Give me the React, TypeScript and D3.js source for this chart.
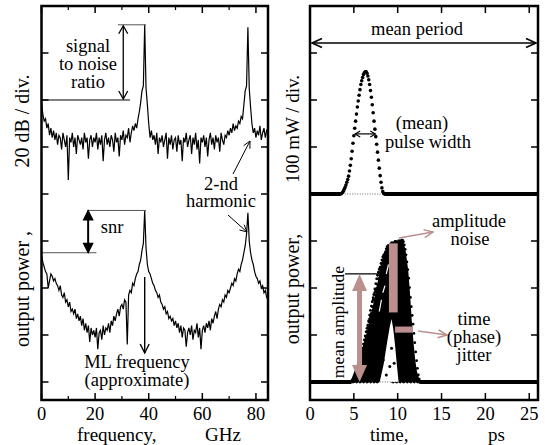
import React from "react";
import * as d3 from "d3";

const W = 545;
const H = 445;
const FONT = '"Liberation Serif", "Times New Roman", "DejaVu Serif", serif';
const PINK = "#bc8f8f";

// ---------- DATA ----------
// RF spectra, 0 .. 84.5 GHz in 0.5 GHz steps, relative power in dB (20 dB / div)
const FREQ_STEP = 0.5;
const upperSpectrum = [
  119, 114, 111, 112, 108, 110, 105, 108, 104, 107,
  103, 106, 101, 105, 104, 99, 106, 103, 100, 105,
  86, 104, 102, 106, 100, 104, 97, 105, 103, 101,
  104, 99, 106, 102, 104, 95, 103, 105, 100, 104,
  102, 106, 99, 104, 101, 105, 94, 103, 106, 101,
  104, 100, 105, 103, 98, 106, 102, 104, 96, 105,
  103, 107, 101, 105, 104, 108, 102, 106, 109, 107,
  110, 108, 112, 115, 119, 124, 126, 152, 125, 118,
  110, 104, 107, 103, 105, 101, 106, 97, 104, 102,
  105, 100, 103, 106, 95, 104, 101, 105, 99, 103,
  104, 98, 105, 101, 103, 94, 104, 102, 106, 100,
  103, 105, 97, 104, 101, 106, 99, 103, 93, 104,
  102, 105, 100, 104, 96, 103, 106, 101, 104, 99,
  105, 102, 104, 98, 106, 103, 101, 105, 104, 107,
  105, 108, 106, 110, 107, 109, 108, 111, 110, 113,
  112, 118, 124, 126, 151, 125, 117, 110, 106, 108,
  104, 107, 105, 109, 103, 106, 108, 104, 107, 106,
];
const lowerSpectrum = [
  54, 51, 49, 47, 46, 40, 43, 46, 45, 43,
  44, 42, 41, 39, 41, 37, 36, 38, 34, 35,
  32, 34, 30, 31, 29, 31, 27, 29, 26, 28,
  24, 27, 22, 25, 21, 24, 17, 23, 20, 22,
  19, 23, 14, 21, 22, 18, 24, 20, 23, 22,
  25, 21, 26, 24, 28, 26, 29, 31, 28, 32,
  33, 31, 35, 34, 16, 37, 39, 38, 42, 41,
  44, 46, 47, 50, 52, 56, 59, 73, 57, 50,
  47, 46, 44, 42, 41, 39, 38, 36, 37, 34,
  33, 31, 32, 29, 30, 27, 28, 26, 27, 24,
  26, 23, 25, 21, 24, 19, 23, 22, 15, 21,
  23, 20, 24, 18, 22, 21, 25, 19, 23, 14,
  22, 24, 21, 25, 23, 26, 22, 27, 25, 28,
  30, 27, 31, 33, 32, 35, 34, 37, 36, 39,
  38, 40, 42, 41, 44, 43, 46, 48, 47, 50,
  52, 55, 58, 63, 72, 60, 55, 52, 50, 47,
  45, 44, 42, 43, 40, 41, 38, 39, 36, 35,
];

// Mean pulse (upper right), time in ps, power in mW
const pulseTime = [
  3.5, 3.6, 3.7, 3.8, 3.9, 4.0, 4.1, 4.2, 4.3, 4.4, 4.5, 4.6, 4.7, 4.8, 4.9,
  5.0, 5.1, 5.2, 5.3, 5.4, 5.5, 5.6, 5.7, 5.8, 5.9, 6.0, 6.1, 6.2, 6.3, 6.4,
  6.5, 6.6, 6.7, 6.8, 6.9, 7.0, 7.1, 7.2, 7.3, 7.4, 7.5, 7.6, 7.7, 7.8, 7.9,
  8.0, 8.1, 8.2, 8.3, 8.4, 8.5,
];
const pulsePower = [
  0, 1, 3, 6, 10, 14, 19, 25, 31, 38, 49, 61, 75, 91, 108,
  124, 140, 155, 170, 185, 198, 210, 222, 233, 241, 248, 254, 258, 260, 260,
  257, 251, 243, 233, 220, 206, 190, 173, 155, 138, 122, 106, 89, 72, 55,
  39, 25, 13, 5, 1, 0,
];
const upperOffset = 400; // mW, upper trace sits 4 div above the lower one

// Noisy pulse train (lower right): envelope of the cloud of samples
const cloudTopTime = [4.4, 4.7, 5.1, 5.6, 6.0, 6.4, 6.8, 7.2, 7.6, 8.0, 8.3, 8.6, 8.9, 9.3, 9.8, 10.3, 10.6, 10.9, 11.2, 11.4, 11.6, 11.8, 12.0, 12.2, 12.5, 12.8];
const cloudTopPower = [0, 5, 25, 50, 75, 100, 132, 165, 202, 240, 266, 280, 291, 296, 298, 300, 302, 280, 238, 190, 132, 85, 47, 22, 4, 0];
const cloudGapTime = [7.95, 8.4, 8.8, 9.1, 9.3, 9.5, 9.7, 9.9, 10.1];
const cloudGapPower = [0, 38, 85, 118, 134, 112, 78, 38, 0];
// individual pulses of the train: time shift of peak and peak power
const trainPeakTime = [7.3, 7.7, 8.1, 8.5, 8.9, 9.3, 9.7, 10.1, 10.45];
const trainPeakPower = [150, 200, 245, 272, 290, 296, 299, 300, 302];
const strayTime = [8.35, 9.3, 9.1, 8.7, 9.6];
const strayPower = [47, 72, 33, 15, 40];
// white streaks inside the cloud (sparse regions)
const streakTime = [7.9, 8.3, 8.7];
const streakLow = [150, 190, 230];
const streakHigh = [175, 205, 250];

const freqMajor = [0, 20, 40, 60, 80];
const freqMinor = [10, 30, 50, 70];
const dbTicks = [0, 20, 40, 60, 80, 100, 120, 140];
const timeTicks = [0, 5, 10, 15, 20, 25];
const mwTicks = [0, 100, 200, 300, 400, 500, 600, 700];

// ---------- helpers ----------
function head(tx: number, ty: number, fx: number, fy: number, len: number, half: number, closed: boolean) {
  const dx = tx - fx;
  const dy = ty - fy;
  const n = Math.hypot(dx, dy) || 1;
  const ux = dx / n;
  const uy = dy / n;
  const bx = tx - ux * len;
  const by = ty - uy * len;
  const px = -uy;
  const py = ux;
  return `M${bx + px * half},${by + py * half}L${tx},${ty}L${bx - px * half},${by - py * half}${closed ? "Z" : ""}`;
}

function Arrow({ x1, y1, x2, y2, both = false, len = 7, half = 4.5, closed = false, color = "#000", width = 1.3 }: any) {
  return (
    <g>
      <line x1={x1} y1={y1} x2={x2} y2={y2} stroke={color} strokeWidth={width} />
      <path d={head(x2, y2, x1, y1, len, half, closed)} fill={closed ? color : "none"} stroke={color} strokeWidth={width} />
      {both && <path d={head(x1, y1, x2, y2, len, half, closed)} fill={closed ? color : "none"} stroke={color} strokeWidth={width} />}
    </g>
  );
}

function T({ children, size = 18.5, ...p }: any) {
  return (
    <text fontFamily={FONT} fontSize={size} fill="#000" style={{ fontFamily: FONT, fontSize: size + "px", whiteSpace: "pre" }} {...p}>
      {children}
    </text>
  );
}

export default function App() {
  const L = { x0: 41.5, x1: 268, y0: 6, y1: 400 };
  const R = { x0: 310, x1: 538, y0: 6, y1: 400 };
  const xL = d3.scaleLinear().domain([0, 84.5]).range([L.x0, L.x1]);
  const yL = d3.scaleLinear().domain([-7.66, 160]).range([L.y1, L.y0]);
  const xR = d3.scaleLinear().domain([0, 26]).range([R.x0, R.x1]);
  const yR = d3.scaleLinear().domain([-38.3, 800]).range([R.y1, R.y0]);

  const specLine = d3
    .line<number>()
    .x((_, i) => xL(i * FREQ_STEP))
    .y((d) => yL(d));

  const ptLine = d3
    .line<[number, number]>()
    .x((d) => xR(d[0]))
    .y((d) => yR(d[1]));

  const cloudTop: [number, number][] = cloudTopTime.map((t, i) => [t, cloudTopPower[i]]);
  const cloudGap: [number, number][] = cloudGapTime.map((t, i) => [t, cloudGapPower[i]]);
  const pulsePeakP = d3.max(pulsePower) as number;
  const pulsePeakT = pulseTime[pulsePower.indexOf(pulsePeakP)];

  return (
    <svg width={W} height={H} style={{ position: "absolute", left: 0, top: 0, background: "#fff" }}>
      <rect x={0} y={0} width={W} height={H} fill="#fff" />

      {/* ================= LEFT PANEL ================= */}
      <g>
        <path d={specLine(upperSpectrum) || ""} fill="none" stroke="#000" strokeWidth={1.2} />
        <path d={specLine(lowerSpectrum) || ""} fill="none" stroke="#000" strokeWidth={1.2} />

        {/* signal to noise ratio */}
        <line x1={xL(28.5)} x2={xL(39)} y1={yL(152)} y2={yL(152)} stroke="#555" strokeWidth={1} />
        <line x1={L.x0} x2={xL(33)} y1={yL(120)} y2={yL(120)} stroke="#000" strokeWidth={1} />
        <Arrow x1={xL(30.5)} y1={yL(152) + 1} x2={xL(30.5)} y2={yL(120) - 1} both len={8} half={4.5} width={1.3} />
        <T x={88} y={52} textAnchor="middle">signal</T>
        <T x={88} y={70} textAnchor="middle">to noise</T>
        <T x={88} y={88} textAnchor="middle">ratio</T>

        {/* 2nd harmonic */}
        <T x={221} y={190} textAnchor="middle">2-nd</T>
        <T x={221} y={207} textAnchor="middle">harmonic</T>
        <Arrow x1={233} y1={174} x2={250} y2={141} len={7} half={3.5} width={1} />
        <Arrow x1={228} y1={215} x2={247} y2={232} len={7} half={3.5} width={1} />

        {/* snr */}
        <line x1={xL(17)} x2={xL(39)} y1={yL(73)} y2={yL(73)} stroke="#555" strokeWidth={1} />
        <line x1={L.x0} x2={xL(20.5)} y1={yL(55)} y2={yL(55)} stroke="#555" strokeWidth={1} />
        <Arrow x1={xL(17.4)} y1={yL(73) + 1} x2={xL(17.4)} y2={yL(55) - 1} both len={8} half={4} closed width={2} />
        <T x={112} y={233} textAnchor="middle">snr</T>

        {/* ML frequency */}
        <Arrow x1={xL(38.5)} y1={277} x2={xL(38.5)} y2={353} len={9} half={4.5} width={1.4} />
        <T x={137} y={368} textAnchor="middle">ML frequency</T>
        <T x={137} y={386} textAnchor="middle">(approximate)</T>

        {/* frame + ticks */}
        {dbTicks.map((v) => (
          <g key={"ly" + v}>
            <line x1={L.x0} x2={L.x0 + 7} y1={yL(v)} y2={yL(v)} stroke="#000" strokeWidth={1.5} />
            <line x1={L.x1} x2={L.x1 - 7} y1={yL(v)} y2={yL(v)} stroke="#000" strokeWidth={1.5} />
          </g>
        ))}
        {freqMajor.map((v) => (
          <g key={"lxM" + v}>
            <line x1={xL(v)} x2={xL(v)} y1={L.y1} y2={L.y1 - 7} stroke="#000" strokeWidth={1.5} />
            <line x1={xL(v)} x2={xL(v)} y1={L.y0} y2={L.y0 + 7} stroke="#000" strokeWidth={1.5} />
            <T x={xL(v)} y={420} textAnchor="middle">{v}</T>
          </g>
        ))}
        {freqMinor.map((v) => (
          <g key={"lxm" + v}>
            <line x1={xL(v)} x2={xL(v)} y1={L.y1} y2={L.y1 - 4} stroke="#000" strokeWidth={1.2} />
            <line x1={xL(v)} x2={xL(v)} y1={L.y0} y2={L.y0 + 4} stroke="#000" strokeWidth={1.2} />
          </g>
        ))}
        <rect x={L.x0} y={L.y0} width={L.x1 - L.x0} height={L.y1 - L.y0} fill="none" stroke="#000" strokeWidth={2.5} />
        <T x={77} y={441} size={19}>frequency,</T>
        <T x={205} y={441} size={19}>GHz</T>
        <T transform="translate(29,289) rotate(-90)" textAnchor="middle" size={20}>output power ,</T>
        <T transform="translate(29,121) rotate(-90)" textAnchor="middle" size={20}>20 dB / div.</T>
      </g>

      {/* ================= RIGHT PANEL ================= */}
      <g>
        {/* upper: mean pulse */}
        <line x1={R.x0} x2={xR(pulseTime[0])} y1={yR(upperOffset)} y2={yR(upperOffset)} stroke="#000" strokeWidth={4} />
        <line x1={xR(pulseTime[pulseTime.length - 1])} x2={R.x1} y1={yR(upperOffset)} y2={yR(upperOffset)} stroke="#000" strokeWidth={4} />
        <line x1={xR(pulseTime[0]) + 4} x2={xR(pulseTime[pulseTime.length - 1]) - 4} y1={yR(upperOffset)} y2={yR(upperOffset)} stroke="#666" strokeWidth={1} strokeDasharray="1,1.5" />
        {pulseTime.map((t, i) => (
          <circle key={"p" + i} cx={xR(t)} cy={yR(upperOffset + pulsePower[i])} r={1.8} fill="#000" />
        ))}

        {/* mean period */}
        <Arrow x1={R.x0 + 2} y1={43} x2={R.x1 - 2} y2={43} both len={10} half={4.5} width={1.6} />
        <T x={417} y={35} textAnchor="middle">mean period</T>

        {/* pulse width */}
        <Arrow x1={xR(5.15)} y1={yR(upperOffset + pulsePeakP / 2) + 1} x2={xR(7.45)} y2={yR(upperOffset + pulsePeakP / 2) + 1} both len={5} half={3} width={1.2} />
        <T x={422} y={129} textAnchor="middle">(mean)</T>
        <T x={428} y={148} textAnchor="middle">pulse width</T>

        {/* lower: noisy pulse train */}
        <line x1={R.x0} x2={xR(cloudTopTime[0]) + 3} y1={yR(0)} y2={yR(0)} stroke="#000" strokeWidth={4} />
        <line x1={xR(cloudTopTime[cloudTopTime.length - 1]) - 3} x2={R.x1} y1={yR(0)} y2={yR(0)} stroke="#000" strokeWidth={4} />
        <path d={(ptLine([[cloudTopTime[0], 0], ...cloudTop, [cloudTopTime[cloudTopTime.length - 1], 0]]) || "") + "Z"} fill="#000" />
        {trainPeakTime.map((c, k) =>
          pulseTime.map((t, i) => (
            <circle
              key={"tr" + k + "_" + i}
              cx={xR(t - pulsePeakT + c)}
              cy={yR((pulsePower[i] / pulsePeakP) * trainPeakPower[k])}
              r={1.4}
              fill="#000"
            />
          ))
        )}
        {streakTime.map((t, i) => (
          <line key={"w" + i} x1={xR(t)} x2={xR(t + 0.25)} y1={yR(streakLow[i])} y2={yR(streakHigh[i])} stroke="#fff" strokeWidth={1.2} />
        ))}
        <path d={(ptLine(cloudGap) || "") + "Z"} fill="#fff" />
        <line x1={xR(cloudGapTime[0])} x2={xR(cloudGapTime[cloudGapTime.length - 1])} y1={yR(0)} y2={yR(0)} stroke="#666" strokeWidth={1} strokeDasharray="1,1.5" />
        {strayTime.map((t, i) => (
          <circle key={"s" + i} cx={xR(t)} cy={yR(strayPower[i])} r={1.5} fill="#000" />
        ))}

        {/* mean amplitude */}
        <line x1={345} x2={380} y1={yR(230)} y2={yR(230)} stroke="#000" strokeWidth={1.2} />
        <line x1={xR(5.65)} x2={xR(5.65)} y1={yR(230) + 14} y2={yR(0) - 14} stroke={PINK} strokeWidth={5} />
        <path d={head(xR(5.65), yR(230), xR(5.65), yR(0), 17, 7.5, true)} fill={PINK} />
        <path d={head(xR(5.65), yR(0), xR(5.65), yR(230), 17, 7.5, true)} fill={PINK} />
        <T transform="translate(344,322) rotate(-90)" textAnchor="middle" size={17.5}>mean amplitude</T>

        {/* amplitude noise */}
        <rect x={xR(9.0)} y={yR(295)} width={xR(10.0) - xR(9.0)} height={yR(148) - yR(295)} fill={PINK} />
        <Arrow x1={399} y1={238} x2={433} y2={232} len={9} half={4} color={PINK} width={1.5} />
        <T x={469} y={227} textAnchor="middle">amplitude</T>
        <T x={470} y={245} textAnchor="middle">noise</T>

        {/* time jitter */}
        <rect x={xR(9.7)} y={yR(118)} width={xR(11.75) - xR(9.7)} height={yR(105) - yR(118)} fill={PINK} />
        <Arrow x1={418} y1={331} x2={447} y2={335} len={9} half={4} color={PINK} width={1.5} />
        <T x={474} y={325} textAnchor="middle">time</T>
        <T x={474} y={343} textAnchor="middle">(phase)</T>
        <T x={474} y={361} textAnchor="middle">jitter</T>

        {/* frame + ticks */}
        {mwTicks.map((v) => (
          <g key={"ry" + v}>
            <line x1={R.x0} x2={R.x0 + 7} y1={yR(v)} y2={yR(v)} stroke="#000" strokeWidth={1.5} />
            <line x1={R.x1} x2={R.x1 - 7} y1={yR(v)} y2={yR(v)} stroke="#000" strokeWidth={1.5} />
          </g>
        ))}
        {timeTicks.map((v) => (
          <g key={"rx" + v}>
            <line x1={xR(v)} x2={xR(v)} y1={R.y1} y2={R.y1 - 7} stroke="#000" strokeWidth={1.5} />
            <line x1={xR(v)} x2={xR(v)} y1={R.y0} y2={R.y0 + 7} stroke="#000" strokeWidth={1.5} />
            <T x={xR(v)} y={420} textAnchor="middle">{v}</T>
          </g>
        ))}
        <rect x={R.x0} y={R.y0} width={R.x1 - R.x0} height={R.y1 - R.y0} fill="none" stroke="#000" strokeWidth={2.5} />
        <T x={370} y={441} size={19}>time,</T>
        <T x={488} y={441} size={19}>ps</T>
        <T transform="translate(299,289) rotate(-90)" textAnchor="middle" size={20}>output power,</T>
        <T transform="translate(299,129) rotate(-90)" textAnchor="middle" size={19}>100 mW / div.</T>
      </g>
    </svg>
  );
}
